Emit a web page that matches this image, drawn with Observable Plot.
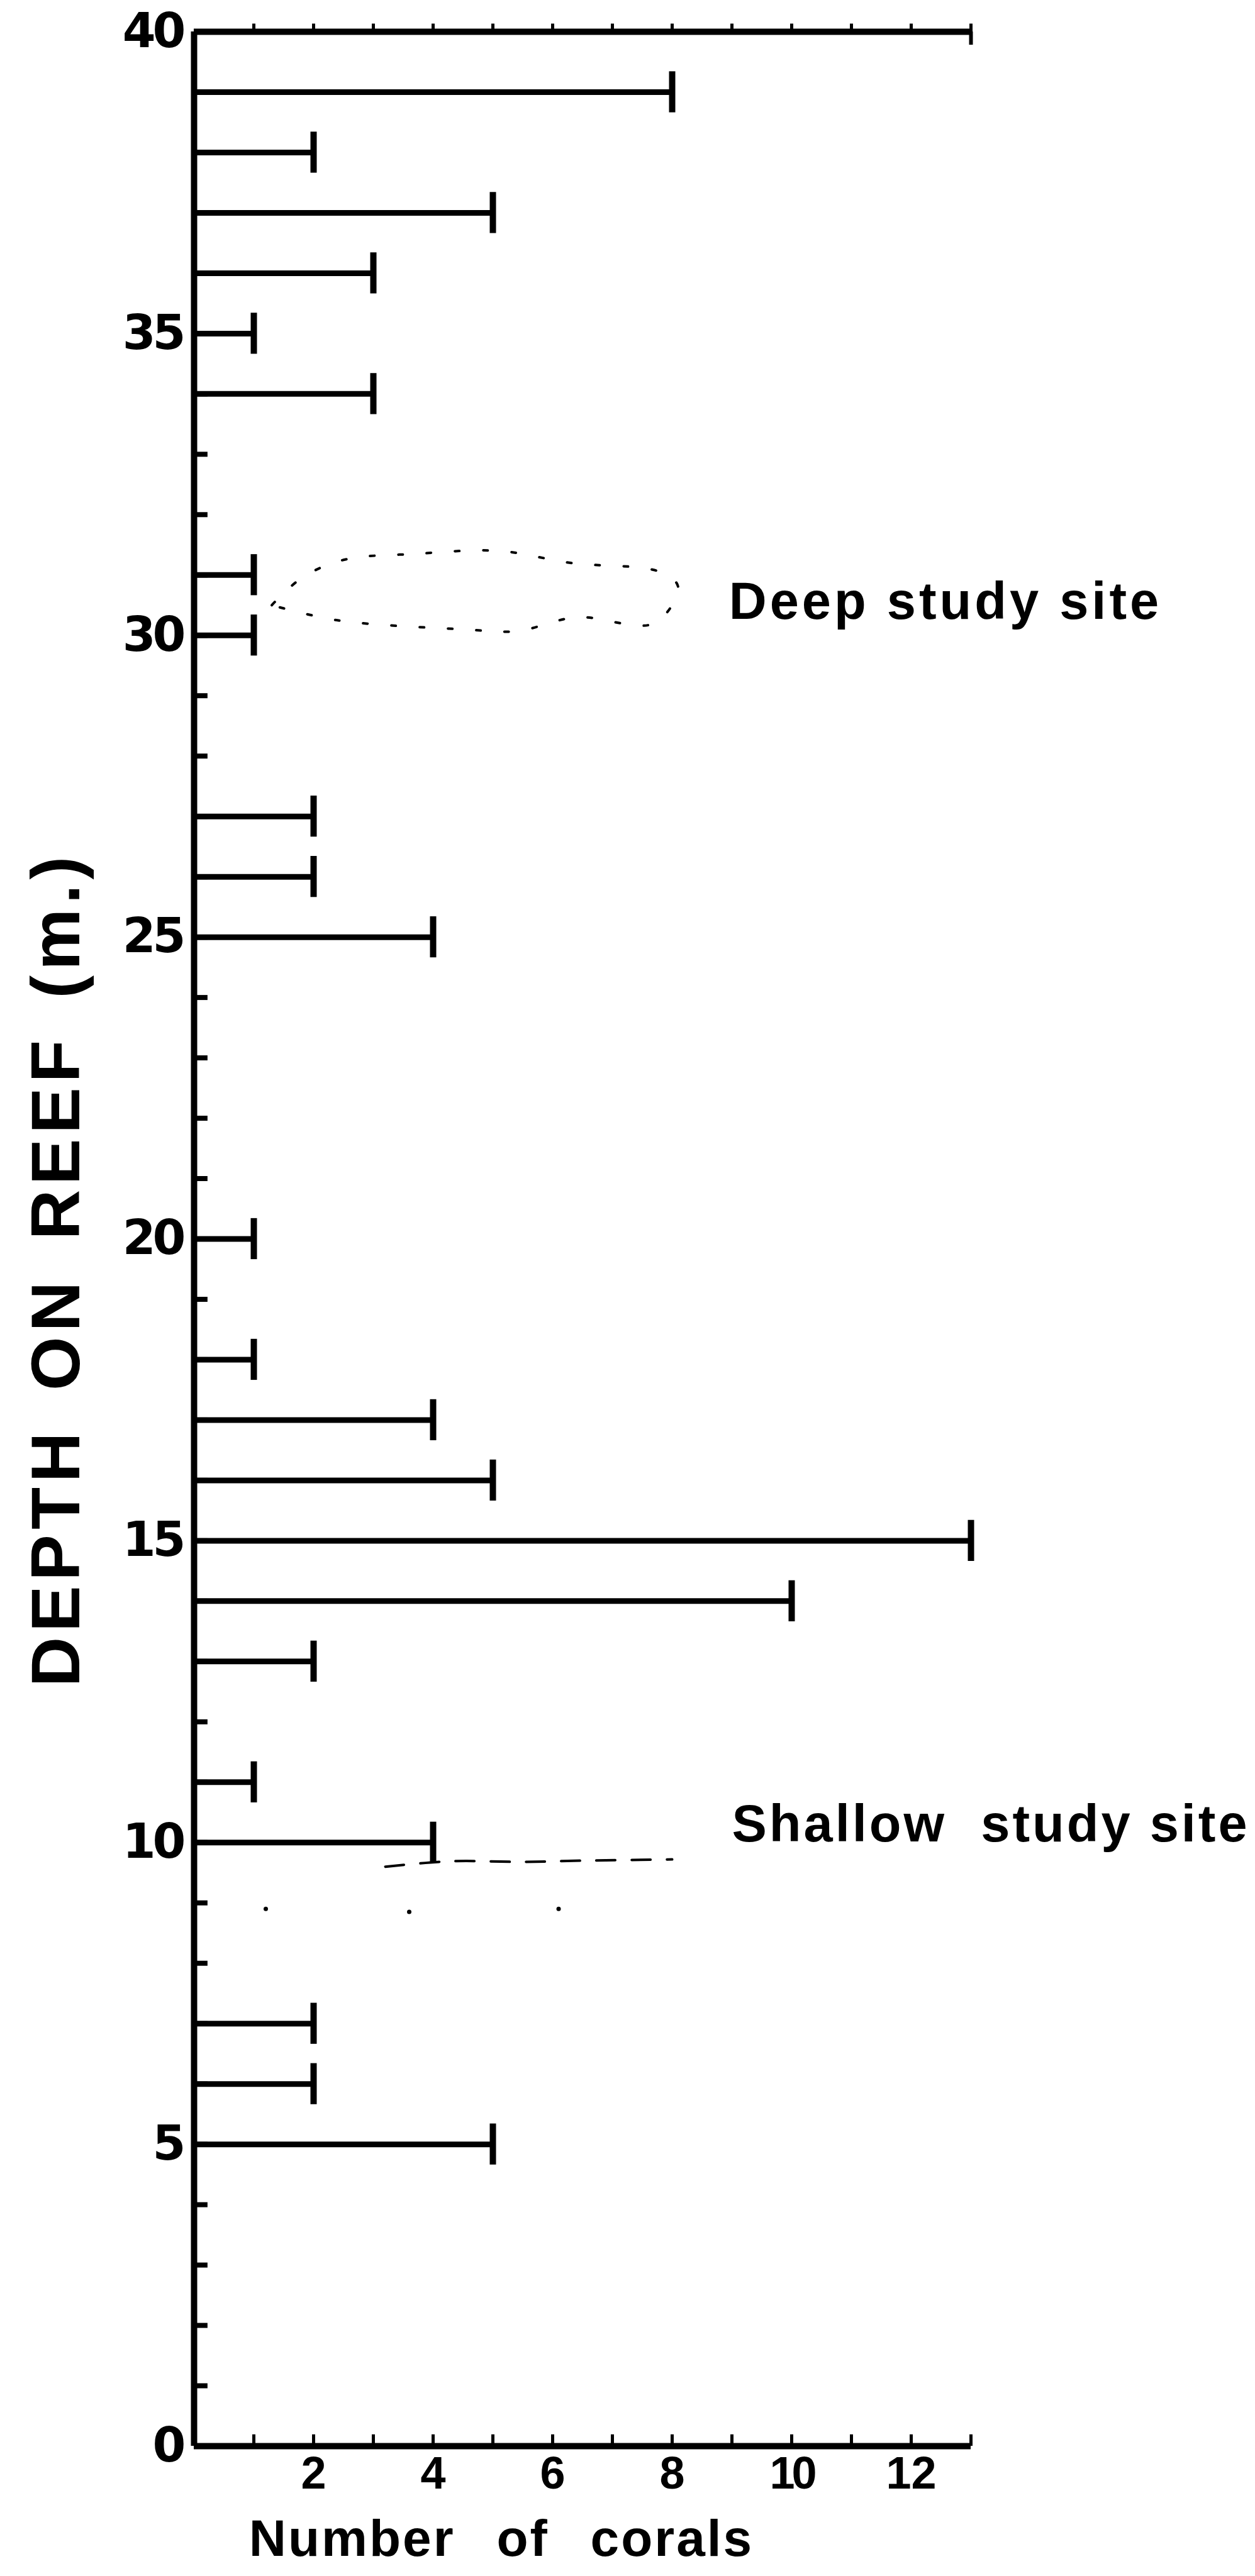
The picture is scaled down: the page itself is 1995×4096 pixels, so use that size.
<!DOCTYPE html>
<html>
<head>
<meta charset="utf-8">
<script src="https://cdn.jsdelivr.net/npm/d3@7"></script>
<script src="https://cdn.jsdelivr.net/npm/@observablehq/plot@0.6"></script>
<style>
  html, body { margin: 0; padding: 0; background: #ffffff; }
  #chart svg { display: block; }
</style>
</head>
<body>
<div id="chart"></div>
<script>
// ---- data ----
const depths = [39, 38, 37, 36, 35, 34, 31, 30, 27, 26, 25, 20, 18, 17, 16, 15, 14, 13, 11, 10, 7, 6, 5];
const counts = [8, 2, 5, 3, 1, 3, 1, 1, 2, 2, 4, 1, 1, 4, 5, 13, 10, 2, 1, 4, 2, 2, 5];

const xTickLabels = [2, 4, 6, 8, 10, 12];
const xMinorTicks = [1, 2, 3, 4, 5, 6, 7, 8, 9, 10, 11, 12, 13];
const yTickLabels = [0, 5, 10, 15, 20, 25, 30, 35, 40];
const yMinorTicks = d3.range(0, 41);
const xMax = 13;
const yMax = 40;

const siteNames = ["Deep study site", "Shallow  study site"];
const siteDepths = [30.55, 10.3];
const siteCounts = [8.95, 9.0];

// hand-drawn dotted outlines around the study sites (count, depth)
const deepLoopCounts = [1.3, 1.8, 2.5, 3.7, 5.1, 6.3, 7.8, 8.1, 7.7, 6.4, 5.4, 4.5, 2.4, 1.3];
const deepLoopDepths = [30.5, 30.95, 31.25, 31.35, 31.4, 31.2, 31.05, 30.8, 30.2, 30.3, 30.07, 30.1, 30.25, 30.5];
const shallowDashCounts = [3.2, 4.3, 5.5, 6.5, 8.0];
const shallowDashDepths = [9.6, 9.69, 9.68, 9.7, 9.72];
const shallowDotCounts = [1.2, 3.6, 6.1];
const shallowDotDepths = [8.9, 8.85, 8.9];

const xTitle = "Number of corals";
const yTitle = "DEPTH ON REEF (m.)";

// ---- tables for the library ----
const bars = depths.map((d, i) => ({depth: d, count: counts[i]}));
const sites = siteNames.map((t, i) => ({text: t, depth: siteDepths[i], count: siteCounts[i]}));
const deepLoop = deepLoopCounts.map((c, i) => ({count: c, depth: deepLoopDepths[i]}));
const shallowDash = shallowDashCounts.map((c, i) => ({count: c, depth: shallowDashDepths[i]}));
const shallowDots = shallowDotCounts.map((c, i) => ({count: c, depth: shallowDotDepths[i]}));

const ink = "#000000";

const chart = Plot.plot({
  width: 1995,
  height: 4096,
  marginLeft: 308,
  marginRight: 452,
  marginTop: 50,
  marginBottom: 207,
  x: {domain: [0, xMax], axis: null},
  y: {domain: [0, yMax], axis: null},
  style: {fontFamily: "'Liberation Sans', Arial, sans-serif", background: "#ffffff", color: ink},
  marks: [
    // dotted study-site outlines
    Plot.line(deepLoop, {x: "count", y: "depth", curve: "catmull-rom", stroke: ink, strokeWidth: 4, strokeDasharray: "7,38", strokeLinecap: "round"}),
    Plot.line(shallowDash, {x: "count", y: "depth", curve: "catmull-rom", stroke: ink, strokeWidth: 4, strokeDasharray: "30,26"}),
    Plot.dot(shallowDots, {x: "count", y: "depth", r: 3.5, fill: ink}),

    // axis lines (left axis, bottom axis, top line)
    Plot.ruleX([0], {y1: 0, y2: yMax, stroke: ink, strokeWidth: 10}),
    Plot.ruleY([0], {x1: 0, x2: xMax, stroke: ink, strokeWidth: 10}),
    Plot.ruleY([yMax], {x1: 0, x2: xMax, stroke: ink, strokeWidth: 10}),

    // minor ticks along the depth axis (inward)
    Plot.ruleY(yMinorTicks, {x1: 0, x2: 0.23, stroke: ink, strokeWidth: 8}),
    // ticks on the bottom axis (inward) and on the top line (outward)
    Plot.ruleX(xMinorTicks, {y1: 0, y2: 0.19, stroke: ink, strokeWidth: 5}),
    Plot.ruleX(xMinorTicks, {y1: yMax - 0.04, y2: yMax + 0.13, stroke: ink, strokeWidth: 5}),
    Plot.ruleX([xMax], {y1: yMax - 0.22, y2: yMax, stroke: ink, strokeWidth: 6}),

    // bars
    Plot.ruleY(bars, {y: "depth", x1: 0, x2: "count", stroke: ink, strokeWidth: 9}),
    // end caps
    Plot.ruleX(bars, {x: "count", y1: d => d.depth - 0.34, y2: d => d.depth + 0.34, stroke: ink, strokeWidth: 10}),

    // tick labels
    Plot.axisY(yTickLabels, {tickSize: 0, tickPadding: 18, tickFormat: d => `${d}`, fontSize: 76, fontFamily: "'DejaVu Sans', sans-serif", fontWeight: "bold", label: null}),
    Plot.axisX(xTickLabels, {anchor: "bottom", tickSize: 0, tickPadding: 16, tickFormat: d => `${d}`, fontSize: 72, fontWeight: "bold", label: null}),

    // site labels
    Plot.text(sites, {x: "count", y: "depth", text: "text", textAnchor: "start", lineAnchor: "middle", fontSize: 83, fontWeight: "bold", fill: ink}),

    // axis titles
    Plot.text([xTitle], {frameAnchor: "bottom", dx: -129, dy: 174, lineAnchor: "bottom", textAnchor: "middle", fontSize: 82, fontWeight: "bold", fill: ink}),
    Plot.text([yTitle], {frameAnchor: "left", dx: -218, dy: 48, rotate: -90, textAnchor: "middle", lineAnchor: "middle", fontSize: 110, fontWeight: "bold", fill: ink})
  ]
});

// letter / word spacing adjustments (selected by their text)
const svg = d3.select(chart);
const styleText = (content, styles) => {
  svg.selectAll("text").filter(function () { return this.textContent === content; })
    .each(function () { const s = d3.select(this); for (const k in styles) s.style(k, styles[k]); });
};
styleText(siteNames[0], {"letter-spacing": "5px", "white-space": "pre"});
styleText(siteNames[1], {"letter-spacing": "4px", "white-space": "pre"});
styleText(xTitle, {"letter-spacing": "3px", "word-spacing": "40px"});
styleText(yTitle, {"letter-spacing": "8px", "word-spacing": "20px"});
yTickLabels.forEach(v => styleText(`${v}`, {"letter-spacing": "-5px"}));

document.getElementById("chart").appendChild(chart);
</script>
</body>
</html>
